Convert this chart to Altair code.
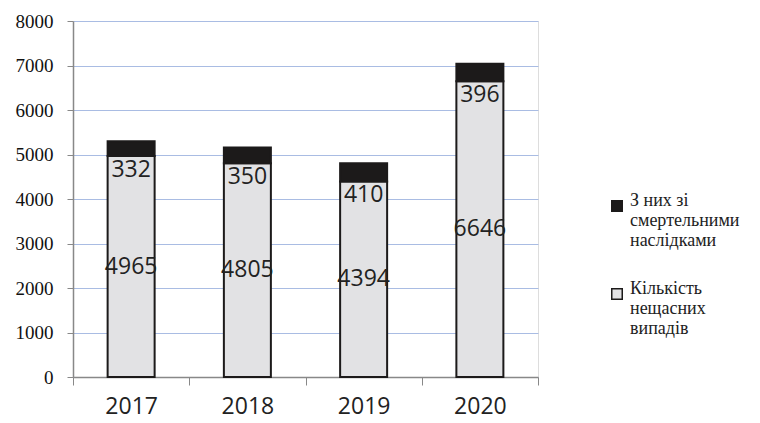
import altair as alt
import pandas as pd

years = ["2017", "2018", "2019", "2020"]
total_cases = [4965, 4805, 4394, 6646]
fatal_cases = [332, 350, 410, 396]
series_total = "Кількість нещасних випадів"
series_fatal = "З них зі смертельними наслідками"
legend_lines = {
    series_fatal: "З них зі|смертельними|наслідками",
    series_total: "Кількість|нещасних|випадів",
}
y_ticks = [0, 1000, 2000, 3000, 4000, 5000, 6000, 7000, 8000]

SERIF = "Liberation Serif"

rows = []
for yr, t, f in zip(years, total_cases, fatal_cases):
    rows.append({"year": yr, "series": series_total, "value": t, "ord": 1, "lab_y": t / 2})
    rows.append({"year": yr, "series": series_fatal, "value": f, "ord": 2, "lab_y": t})
df = pd.DataFrame(rows)

x_enc = alt.X(
    "year:N",
    title=None,
    scale=alt.Scale(paddingInner=0, paddingOuter=0),
    axis=alt.Axis(
        labelAngle=0, labelFont="Open Sans", labelFontSize=23, labelColor="#222222",
        labelPadding=10, tickBand="extent", tickSize=8, tickColor="#888888",
        domainColor="#888888", domainWidth=1.5, grid=False,
    ),
)
y_scale = alt.Scale(domain=[0, 8000], nice=False)

color = alt.Color(
    "series:N",
    scale=alt.Scale(domain=[series_fatal, series_total], range=["#1c1a1a", "#e2e2e4"]),
    legend=alt.Legend(
        title=None, orient="none", legendX=535, legendY=176,
        symbolType="square", symbolSize=110, symbolStrokeColor="#1c1a1a",
        symbolStrokeWidth=1.5, labelFont=SERIF, labelFontSize=18,
        labelColor="#222222", labelLimit=300, labelOffset=4, rowPadding=30,
        labelBaseline="alphabetic",
        labelExpr="split(datum.label == '" + series_fatal + "' ? '" + legend_lines[series_fatal]
        + "' : '" + legend_lines[series_total] + "', '|')",
    ),
)

bars = alt.Chart(df).mark_bar(size=47, stroke="#1c1a1a", strokeWidth=2).encode(
    x=x_enc,
    y=alt.Y(
        "value:Q", stack="zero", scale=y_scale, title=None,
        axis=alt.Axis(
            values=y_ticks, format="d", labelFont=SERIF, labelFontSize=19,
            labelColor="#111111", tickSize=6, tickColor="#888888", labelPadding=14,
            domainColor="#888888", domainWidth=1.5, gridColor="#a9bce3", gridWidth=1.2,
        ),
    ),
    color=color,
    order=alt.Order("ord:Q", sort="ascending"),
)

labels_total = alt.Chart(df).transform_filter(
    alt.datum.ord == 1
).mark_text(font="Open Sans", fontSize=23, color="#222222", baseline="middle").encode(
    x=alt.X("year:N"), y=alt.Y("lab_y:Q", scale=y_scale), text="value:Q",
)
labels_fatal = alt.Chart(df).transform_filter(
    alt.datum.ord == 2
).mark_text(font="Open Sans", fontSize=23, color="#222222", baseline="top", dy=3).encode(
    x=alt.X("year:N"), y=alt.Y("lab_y:Q", scale=y_scale), text="value:Q",
)

chart = alt.layer(bars, labels_total, labels_fatal).properties(
    width=465, height=356,
    autosize=alt.AutoSizeParams(type="none"),
    padding={"left": 65, "top": 13, "right": 214, "bottom": 50},
).configure_view(stroke=None).configure(background="white")

chart.save("out.html", embed_options={"renderer": "svg", "actions": False})
